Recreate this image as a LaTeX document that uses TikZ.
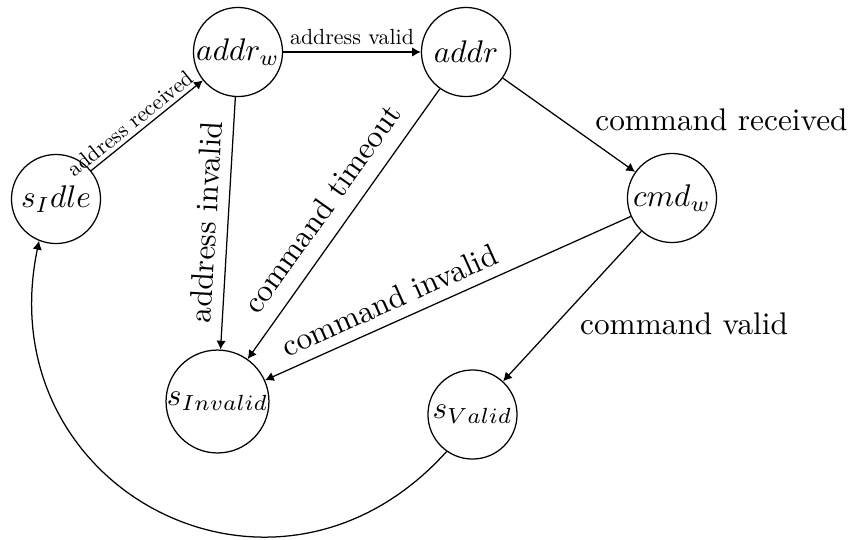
\documentclass[tikz,border=0pt]{standalone}
\usetikzlibrary{arrows.meta}
\begin{document}
\begin{tikzpicture}[x=0.3195pt, y=-0.3195pt,
  state/.style={circle, draw, minimum size=1cm, inner sep=0pt},
  trans/.style={-{Latex[length=2.8pt, width=3pt]}},
  small/.style={scale=0.7}]
\useasboundingbox (0,0) rectangle (849,540);
% states
\node[state] (idle)    at (56,199)      {$s_Idle$};
\node[state] (addrw)   at (238,52)      {$addr_w$};
\node[state] (addr)    at (466,52)      {$addr$};
\node[state] (cmdw)    at (672,198)     {$cmd_w$};
\node[state] (invalid) at (217.5,401.5) {$s_{Invalid}$};
\node[state] (valid)   at (472.5,414.5) {$s_{Valid}$};
% transitions
\draw[trans] (idle) -- node[pos=0.42, above, sloped, small, inner sep=1.8pt] {address received} (addrw);
\draw[trans] (addrw) -- node[above, small] {address valid} (addr);
\draw[trans] (addrw) -- node[above, sloped] {address invalid} (invalid);
\draw[trans] (addr) -- node[above, sloped, yshift=1.5pt] {command timeout} (invalid);
\draw[trans] (addr) -- node[pos=0.63, above right, xshift=-0.6pt, yshift=-1.5pt] {command received} (cmdw);
\draw[trans] (cmdw) -- node[pos=0.635, above, sloped] {command invalid} (invalid);
\draw[trans] (cmdw) -- node[below right, xshift=-1pt, yshift=1.5pt] {command valid} (valid);
% return to idle, sweeping round below the graph
\coordinate (c1) at (276.1,641.2);
\coordinate (c2) at (-13,490.1);
\draw[trans] (valid.-125) .. controls (c1) and (c2) .. (idle.-112);
\end{tikzpicture}
\end{document}
